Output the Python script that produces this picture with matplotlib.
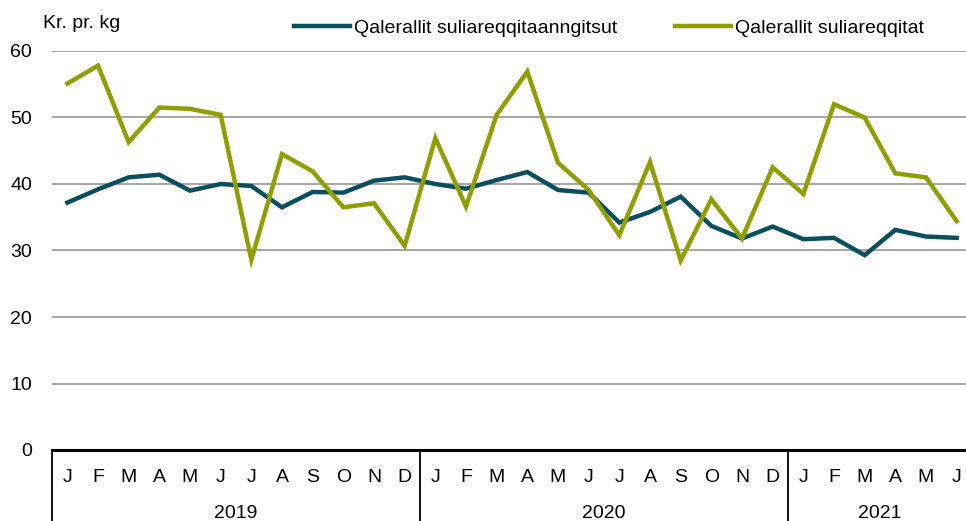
import matplotlib
matplotlib.use("Agg")
import matplotlib.pyplot as plt
import matplotlib.transforms as mtransforms

plt.rcParams['font.family'] = ['Liberation Sans', 'DejaVu Sans']

months = ["J", "F", "M", "A", "M", "J", "J", "A", "S", "O", "N", "D"] * 2 + ["J", "F", "M", "A", "M", "J"]
years = ["2019", "2020", "2021"]
year_lengths = [12, 12, 6]

series_names = ["Qalerallit suliareqqitaanngitsut", "Qalerallit suliareqqitat"]
unprocessed = [37.2, 39.2, 41.0, 41.4, 39.0, 40.0, 39.7, 36.5, 38.8, 38.7, 40.5, 41.0,
               40.0, 39.3, 40.6, 41.8, 39.1, 38.7, 34.2, 35.8, 38.1, 33.7, 31.8, 33.6,
               31.7, 31.9, 29.3, 33.1, 32.1, 31.9]
processed = [55.1, 57.8, 46.3, 51.5, 51.3, 50.4, 28.6, 44.5, 41.9, 36.5, 37.1, 30.7,
             46.9, 36.6, 50.4, 56.9, 43.2, 39.1, 32.3, 43.3, 28.5, 37.7, 31.8, 42.5,
             38.5, 52.0, 50.0, 41.6, 41.0, 34.4]
yticks = [0, 10, 20, 30, 40, 50, 60]
ylabel = "Kr. pr. kg"

teal = "#0b4f5e"
olive = "#8f9e00"
fs = 14

fig = plt.figure(figsize=(9.66, 5.21), dpi=100)
ax = fig.add_axes([52/966, 71/521, 920/966, 399/521])

x = list(range(len(months)))
ax.plot(x, unprocessed, color=teal, lw=3.2, solid_joinstyle='miter', label=series_names[0], zorder=3)
ax.plot(x, processed, color=olive, lw=3.2, solid_joinstyle='miter', label=series_names[1], zorder=3)

ax.set_xlim(-0.5, len(months) - 0.5)
ax.set_ylim(0, 60)
ax.set_yticks(yticks)
ax.set_yticklabels([str(v) for v in yticks], fontsize=fs)
ax.tick_params(axis='y', length=0, pad=14.4)
ax.set_xticks([])
ax.yaxis.grid(True, color="#a6a6a6", lw=1.4)
ax.set_axisbelow(True)
for s in ["left", "right", "top"]:
    ax.spines[s].set_visible(False)
ax.spines["bottom"].set_linewidth(2.2)
ax.spines["bottom"].set_color("black")
ax.spines["bottom"].set_zorder(4)

trans = mtransforms.blended_transform_factory(ax.transData, ax.transAxes)
for i, m in enumerate(months):
    ax.text(i, -0.068, m, transform=trans, ha='center', va='center', fontsize=fs)

start = 0
bounds = [-0.5]
for yr, n in zip(years, year_lengths):
    center = start + (n - 1) / 2
    ax.text(center, -0.158, yr, transform=trans, ha='center', va='center', fontsize=fs)
    start += n
    bounds.append(start - 0.5)
for b in bounds[:-1]:
    ax.plot([b, b], [0, -0.2], transform=trans, color='black', lw=1.3, clip_on=False)

fig.text(43/966, 1 - 28/521, ylabel, fontsize=fs, ha='left', va='baseline')

leg = fig.legend(loc='center', bbox_to_anchor=(609/966, 1 - 28/521), ncol=2, frameon=False,
                 fontsize=fs, handlelength=2.85, handletextpad=0.2, columnspacing=3.0)

fig.savefig("out.png", dpi=100)
